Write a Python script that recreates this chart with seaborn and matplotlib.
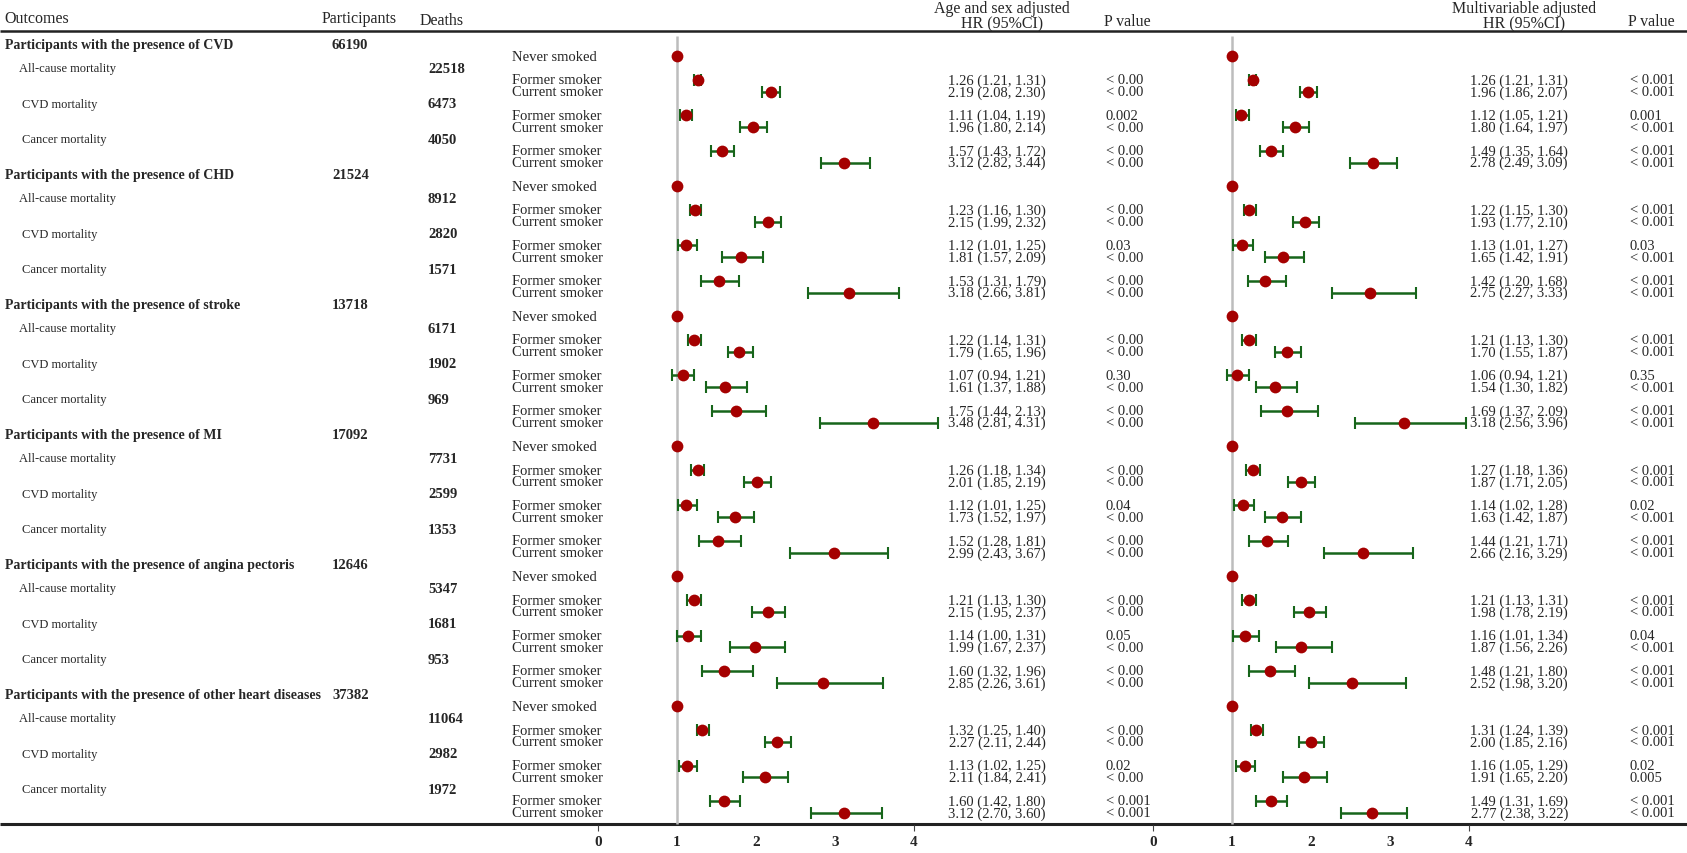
import matplotlib
matplotlib.use("Agg")
import numpy as np
import pandas as pd
import matplotlib.pyplot as plt
import seaborn as sns

# ---- data -------------------------------------------------------------
groups = [
    "Participants with the presence of CVD",
    "Participants with the presence of CHD",
    "Participants with the presence of stroke",
    "Participants with the presence of MI",
    "Participants with the presence of angina pectoris",
    "Participants with the presence of other heart diseases",
]
participants = [66190, 21524, 13718, 17092, 12646, 37382]
outcomes = ["All-cause mortality", "CVD mortality", "Cancer mortality"]
deaths = [
    [22518, 6473, 4050],
    [8912, 2820, 1571],
    [6171, 1902, 969],
    [7731, 2599, 1353],
    [5347, 1681, 953],
    [11064, 2982, 1972],
]
status = ["Former smoker", "Current smoker"]

# order: group -> outcome -> (former, current)
age_hr = [1.26, 2.19, 1.11, 1.96, 1.57, 3.12,
          1.23, 2.15, 1.12, 1.81, 1.53, 3.18,
          1.22, 1.79, 1.07, 1.61, 1.75, 3.48,
          1.26, 2.01, 1.12, 1.73, 1.52, 2.99,
          1.21, 2.15, 1.14, 1.99, 1.60, 2.85,
          1.32, 2.27, 1.13, 2.11, 1.60, 3.12]
age_lo = [1.21, 2.08, 1.04, 1.80, 1.43, 2.82,
          1.16, 1.99, 1.01, 1.57, 1.31, 2.66,
          1.14, 1.65, 0.94, 1.37, 1.44, 2.81,
          1.18, 1.85, 1.01, 1.52, 1.28, 2.43,
          1.13, 1.95, 1.00, 1.67, 1.32, 2.26,
          1.25, 2.11, 1.02, 1.84, 1.42, 2.70]
age_hi = [1.31, 2.30, 1.19, 2.14, 1.72, 3.44,
          1.30, 2.32, 1.25, 2.09, 1.79, 3.81,
          1.31, 1.96, 1.21, 1.88, 2.13, 4.31,
          1.34, 2.19, 1.25, 1.97, 1.81, 3.67,
          1.30, 2.37, 1.31, 2.37, 1.96, 3.61,
          1.40, 2.44, 1.25, 2.41, 1.80, 3.60]
age_p = ["< 0.00", "< 0.00", "0.002", "< 0.00", "< 0.00", "< 0.00",
         "< 0.00", "< 0.00", "0.03", "< 0.00", "< 0.00", "< 0.00",
         "< 0.00", "< 0.00", "0.30", "< 0.00", "< 0.00", "< 0.00",
         "< 0.00", "< 0.00", "0.04", "< 0.00", "< 0.00", "< 0.00",
         "< 0.00", "< 0.00", "0.05", "< 0.00", "< 0.00", "< 0.00",
         "< 0.00", "< 0.00", "0.02", "< 0.00", "< 0.001", "< 0.001"]

mv_hr = [1.26, 1.96, 1.12, 1.80, 1.49, 2.78,
         1.22, 1.93, 1.13, 1.65, 1.42, 2.75,
         1.21, 1.70, 1.06, 1.54, 1.69, 3.18,
         1.27, 1.87, 1.14, 1.63, 1.44, 2.66,
         1.21, 1.98, 1.16, 1.87, 1.48, 2.52,
         1.31, 2.00, 1.16, 1.91, 1.49, 2.77]
mv_lo = [1.21, 1.86, 1.05, 1.64, 1.35, 2.49,
         1.15, 1.77, 1.01, 1.42, 1.20, 2.27,
         1.13, 1.55, 0.94, 1.30, 1.37, 2.56,
         1.18, 1.71, 1.02, 1.42, 1.21, 2.16,
         1.13, 1.78, 1.01, 1.56, 1.21, 1.98,
         1.24, 1.85, 1.05, 1.65, 1.31, 2.38]
mv_hi = [1.31, 2.07, 1.21, 1.97, 1.64, 3.09,
         1.30, 2.10, 1.27, 1.91, 1.68, 3.33,
         1.30, 1.87, 1.21, 1.82, 2.09, 3.96,
         1.36, 2.05, 1.28, 1.87, 1.71, 3.29,
         1.31, 2.19, 1.34, 2.26, 1.80, 3.20,
         1.39, 2.16, 1.29, 2.20, 1.69, 3.22]
mv_p = ["< 0.001", "< 0.001", "0.001", "< 0.001", "< 0.001", "< 0.001",
        "< 0.001", "< 0.001", "0.03", "< 0.001", "< 0.001", "< 0.001",
        "< 0.001", "< 0.001", "0.35", "< 0.001", "< 0.001", "< 0.001",
        "< 0.001", "< 0.001", "0.02", "< 0.001", "< 0.001", "< 0.001",
        "< 0.001", "< 0.001", "0.04", "< 0.001", "< 0.001", "< 0.001",
        "< 0.001", "< 0.001", "0.02", "0.005", "< 0.001", "< 0.001"]

axis_ticks = [0, 1, 2, 3, 4]

# ---- layout (pixels of a 1687x854 canvas) -----------------------------
W, H = 1687, 854
Y0, ROW_H = 45.5, 11.82     # first group header, row pitch
UNIT = 79.0                 # px per HR unit
PANELS = [
    dict(one=677, hr=age_hr, lo=age_lo, hi=age_hi, p=age_p,
         title="Age and sex adjusted", hr_x=1046, p_x=1106),
    dict(one=1232, hr=mv_hr, lo=mv_lo, hi=mv_hi, p=mv_p,
         title="Multivariable adjusted", hr_x=1568, p_x=1630),
]
DOT = "#a50000"
CI = "#17651a"
REF = "#bdbdbd"


def row_of(px):
    return (px - Y0) / ROW_H


# rows table for the forest marks
records = []
for g in range(len(groups)):
    base = 11 * g
    records.append(dict(row=base + 1, idx=-1, label="Never smoked"))
    for o in range(len(outcomes)):
        for k in range(2):
            records.append(dict(row=base + 3 + 3 * o + k,
                                idx=6 * g + 2 * o + k, label=status[k]))
rows = pd.DataFrame(records)

sns.set_theme(style="white")
plt.rcParams["font.family"] = ["Liberation Serif", "DejaVu Serif"]

fig = plt.figure(figsize=(W / 100, H / 100), dpi=100)
ax = fig.add_axes([0, 0, 1, 1])
ax.set_xlim(0, W)
ax.set_ylim(row_of(H), row_of(0))
ax.axis("off")

# header
hdr = 11.5
ax.text(4, row_of(19), "Outcomes", fontsize=hdr, va="center")
ax.text(322, row_of(19), "Participants", fontsize=hdr, va="center")
ax.text(420, row_of(21), "Deaths", fontsize=hdr, va="center")
for pan in PANELS:
    cx = pan["hr_x"] - 44
    ax.text(cx, row_of(9), pan["title"], fontsize=hdr, va="center", ha="center")
    ax.text(cx, row_of(24), "HR (95%CI)", fontsize=hdr, va="center", ha="center")
    ax.text(pan["p_x"] - 2, row_of(22), "P value", fontsize=hdr, va="center")
ax.plot([0, W], [row_of(32)] * 2, color="#222222", lw=1.8, solid_capstyle="butt")
ax.plot([0, W], [row_of(825)] * 2, color="#222222", lw=2.2, solid_capstyle="butt")

# left block text
for g, name in enumerate(groups):
    base = 11 * g
    ax.text(5, base, name, fontsize=10, fontweight="bold", va="center")
    ax.text(332, base, str(participants[g]), fontsize=10.5,
            fontweight="bold", va="center")
    for o, oname in enumerate(outcomes):
        r = base + 2 + 3 * o
        ax.text(19 if o == 0 else 22, r, oname, fontsize=9, va="center")
        ax.text(428, r, str(deaths[g][o]), fontsize=10.5,
                fontweight="bold", va="center")

for _, rr in rows.iterrows():
    ax.text(512, rr["row"], rr["label"], fontsize=10.5, va="center")
    if rr["idx"] >= 0:
        i = int(rr["idx"])
        for pan in PANELS:
            s = f"{pan['hr'][i]:.2f} ({pan['lo'][i]:.2f}, {pan['hi'][i]:.2f})"
            ax.text(pan["hr_x"], rr["row"], s, fontsize=10.5, va="center", ha="right")
            ax.text(pan["p_x"], rr["row"], pan["p"][i], fontsize=10.5, va="center")

# forest panels
for pan in PANELS:
    zero = pan["one"] - UNIT
    fa = fig.add_axes([(zero - UNIT) / W, 0, 6 * UNIT / W, 1])
    fa.patch.set_alpha(0)

    d = rows.copy()
    d["hr"] = [1.0 if i < 0 else pan["hr"][i] for i in d["idx"]]
    d["lo"] = [np.nan if i < 0 else pan["lo"][i] for i in d["idx"]]
    d["hi"] = [np.nan if i < 0 else pan["hi"][i] for i in d["idx"]]
    ci = d.dropna()

    fa.vlines(1, row_of(37), row_of(825), color=REF, lw=1.8, zorder=1)
    fa.errorbar(ci["hr"], ci["row"], xerr=[ci["hr"] - ci["lo"], ci["hi"] - ci["hr"]],
                fmt="none", ecolor=CI, elinewidth=1.8, capsize=4.2, capthick=1.5,
                zorder=2)
    sns.scatterplot(data=d, x="hr", y="row", ax=fa, color=DOT, s=72,
                    edgecolor=DOT, linewidth=0, zorder=3, legend=False)
    fa.set_xlim(-1, 5)
    fa.set_ylim(row_of(H), row_of(0))
    fa.axis("off")

    for t in axis_ticks:
        fa.text(t, row_of(843), str(t), fontsize=11, fontweight="bold",
                ha="center", va="center")
    for t in (axis_ticks[0], axis_ticks[-1]):
        fa.vlines(t, row_of(826), row_of(832), color="#444444", lw=0.8)

fig.savefig("out.png", dpi=100)
